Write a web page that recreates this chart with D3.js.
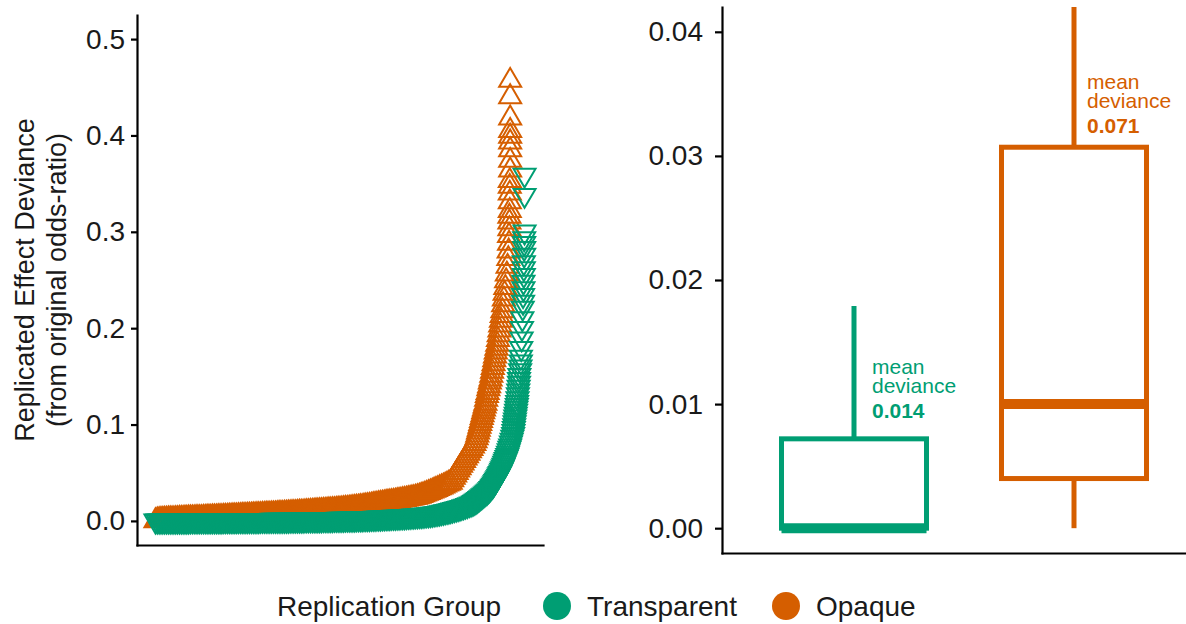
<!DOCTYPE html>
<html>
<head>
<meta charset="utf-8">
<script src="https://cdn.jsdelivr.net/npm/d3@7"></script>
<style>
  body { margin: 0; background: #fff; }
  svg { display: block; font-family: "Liberation Sans", Arial, sans-serif; }
</style>
</head>
<body>
<svg id="chart" width="1186" height="624"></svg>
<script>
const groups = ["Transparent", "Opaque"];
const groupColors = ["#009E73", "#D55E00"];

// left panel: [rank of replication (%), replicated effect deviance]
const opaquePoints = [
  [0,0],[0.5,.0008],[1,.0012],[1.5,.0014],[2,.0015],[2.5,.0016],[3,.0017],[3.5,.0018],[4,.0019],[4.5,.0019],
  [5,.002],[5.5,.0021],[6,.0022],[6.5,.0023],[7,.0024],[7.5,.0025],[8,.0026],[8.5,.0027],[9,.0028],[9.5,.0029],
  [10,.003],[10.5,.003],[11,.0031],[11.5,.0032],[12,.0033],[12.5,.0033],[13,.0034],[13.5,.0035],[14,.0036],[14.5,.0037],
  [15,.0038],[15.5,.0039],[16,.004],[16.5,.004],[17,.0041],[17.5,.0042],[18,.0043],[18.5,.0044],[19,.0045],[19.5,.0046],
  [20,.0047],[20.5,.0048],[21,.0049],[21.5,.005],[22,.0051],[22.5,.0052],[23,.0053],[23.5,.0054],[24,.0055],[24.5,.0056],
  [25,.0057],[25.5,.0058],[26,.0059],[26.5,.006],[27,.0061],[27.5,.0062],[28,.0063],[28.5,.0064],[29,.0065],[29.5,.0066],
  [30,.0067],[30.5,.0068],[31,.0069],[31.5,.007],[32,.0071],[32.5,.0072],[33,.0073],[33.5,.0075],[34,.0076],[34.5,.0077],
  [35,.0078],[35.5,.0079],[36,.008],[36.5,.0082],[37,.0083],[37.5,.0084],[38,.0085],[38.5,.0087],[39,.0088],[39.5,.0089],
  [40,.009],[40.5,.0092],[41,.0093],[41.5,.0095],[42,.0096],[42.5,.0098],[43,.0099],[43.5,.0101],[44,.0102],[44.5,.0104],
  [45,.0105],[45.5,.0107],[46,.0108],[46.5,.011],[47,.0111],[47.5,.0113],[48,.0114],[48.5,.0116],[49,.0117],[49.5,.0119],
  [50,.0121],[50.5,.0123],[51,.0125],[51.5,.0127],[52,.0129],[52.5,.0131],[53,.0133],[53.5,.0135],[54,.0137],[54.5,.014],
  [55,.0142],[55.5,.0145],[56,.0147],[56.5,.015],[57,.0153],[57.5,.0156],[58,.0159],[58.5,.0162],[59,.0166],[59.5,.0169],
  [60,.0173],[60.5,.0176],[61,.018],[61.5,.0183],[62,.0186],[62.5,.0189],[63,.0192],[63.5,.0195],[64,.0198],[64.5,.0201],
  [65,.0204],[65.5,.0207],[66,.0211],[66.5,.0214],[67,.0218],[67.5,.0221],[68,.0225],[68.5,.0228],[69,.0232],[69.5,.0236],
  [70,.024],[70.5,.0244],[71,.0249],[71.5,.0255],[72,.0262],[72.5,.0269],[73,.0276],[73.5,.0284],[74,.0292],[74.5,.03],
  [75,.0308],[75.5,.0316],[76,.0325],[76.5,.0333],[77,.0342],[77.5,.0351],[78,.036],[78.5,.037],[79,.038],[79.5,.039],
  [80,.04],[80.4,.0425],[80.8,.045],[81.2,.0475],[81.6,.05],[82,.0525],[82.4,.055],[82.8,.0575],[83.2,.06],[83.6,.0625],
  [84,.065],[84.4,.0675],[84.8,.07],[85.2,.0725],[85.6,.075],[86,.0775],[86.4,.08],[86.7,.083],[87,.086],[87.2,.089],
  [87.4,.092],[87.6,.095],[87.8,.098],[88,.101],[88.2,.104],[88.4,.107],[88.6,.11],[88.8,.113],[89,.116],[89.2,.119],
  [89.4,.122],[89.6,.126],[89.8,.13],[90,.133],[90.2,.137],[90.4,.14],[90.6,.144],[90.8,.147],[91,.151],[91.2,.155],
  [91.4,.159],[91.6,.163],[91.8,.167],[92,.171],[92.2,.175],[92.4,.179],[92.6,.183],[92.8,.188],[93,.193],[93.2,.198],
  [93.4,.203],[93.6,.208],[93.8,.213],[94,.218],[94.2,.224],[94.4,.23],[94.6,.236],[94.8,.242],[95,.249],[95.2,.256],
  [95.4,.264],[95.6,.272],[95.7,.28],[95.8,.288],[95.8,.296],[95.9,.303],[95.9,.31],[95.9,.316],[96,.322],[96,.331],
  [96,.34],[96,.347],[96,.353],[96.1,.364],[96.1,.374],[96.1,.385],[96.1,.393],[96.1,.399],[96.1,.405],[96.1,.418],
  [96.1,.44],[96.1,.457]
];

const transparentPoints = [
  [0,0],[0.5,0],[1,0],[1.5,0],[2,0],[2.5,0],[3,0],[3.5,.0001],[4,.0001],[4.5,.0001],
  [5,.0001],[5.5,.0001],[6,.0001],[6.5,.0001],[7,.0001],[7.5,.0001],[8,.0001],[8.5,.0001],[9,.0001],[9.5,.0002],
  [10,.0002],[10.5,.0002],[11,.0002],[11.5,.0002],[12,.0002],[12.5,.0002],[13,.0002],[13.5,.0002],[14,.0002],[14.5,.0003],
  [15,.0003],[15.5,.0003],[16,.0003],[16.5,.0003],[17,.0003],[17.5,.0003],[18,.0003],[18.5,.0004],[19,.0004],[19.5,.0004],
  [20,.0004],[20.5,.0004],[21,.0004],[21.5,.0004],[22,.0004],[22.5,.0005],[23,.0005],[23.5,.0005],[24,.0005],[24.5,.0005],
  [25,.0005],[25.5,.0006],[26,.0006],[26.5,.0006],[27,.0006],[27.5,.0006],[28,.0006],[28.5,.0007],[29,.0007],[29.5,.0007],
  [30,.0007],[30.5,.0007],[31,.0007],[31.5,.0008],[32,.0008],[32.5,.0008],[33,.0008],[33.5,.0008],[34,.0008],[34.5,.0009],
  [35,.0009],[35.5,.0009],[36,.0009],[36.5,.001],[37,.001],[37.5,.001],[38,.001],[38.5,.0011],[39,.0011],[39.5,.0011],
  [40,.0011],[40.5,.0012],[41,.0012],[41.5,.0012],[42,.0012],[42.5,.0013],[43,.0013],[43.5,.0013],[44,.0013],[44.5,.0014],
  [45,.0014],[45.5,.0015],[46,.0015],[46.5,.0015],[47,.0015],[47.5,.0016],[48,.0016],[48.5,.0017],[49,.0017],[49.5,.0018],
  [50,.0018],[50.5,.0019],[51,.0019],[51.5,.002],[52,.002],[52.5,.0021],[53,.0021],[53.5,.0022],[54,.0022],[54.5,.0023],
  [55,.0023],[55.5,.0024],[56,.0024],[56.5,.0025],[57,.0025],[57.5,.0026],[58,.0027],[58.5,.0028],[59,.0028],[59.5,.0029],
  [60,.003],[60.5,.0031],[61,.0032],[61.5,.0033],[62,.0034],[62.5,.0035],[63,.0036],[63.5,.0037],[64,.0038],[64.5,.0039],
  [65,.004],[65.5,.0041],[66,.0042],[66.5,.0043],[67,.0044],[67.5,.0045],[68,.0046],[68.5,.0048],[69,.0049],[69.5,.0051],
  [70,.0052],[70.5,.0054],[71,.0055],[71.5,.0057],[72,.0058],[72.5,.006],[73,.0062],[73.5,.0064],[74,.0066],[74.5,.0068],
  [75,.0071],[75.5,.0074],[76,.0077],[76.5,.008],[77,.0084],[77.5,.0088],[78,.0092],[78.5,.0096],[79,.01],[79.5,.0105],
  [80,.011],[80.5,.0115],[81,.012],[81.5,.0125],[82,.013],[82.5,.0136],[83,.0142],[83.5,.0148],[84,.0155],[84.5,.0162],
  [85,.017],[85.5,.0177],[86,.0185],[86.3,.0193],[86.6,.02],[86.9,.0208],[87.2,.0216],[87.5,.0225],[87.8,.0234],[88.1,.0243],
  [88.4,.0252],[88.7,.0262],[89,.0272],[89.3,.0282],[89.6,.0292],[89.9,.0302],[90.2,.0313],[90.5,.0325],[90.8,.0338],[91.1,.0352],
  [91.3,.0362],[91.5,.0373],[91.7,.0385],[91.9,.0397],[92.1,.041],[92.3,.0423],[92.5,.0436],[92.7,.045],[92.9,.0465],[93.1,.048],
  [93.3,.0495],[93.5,.051],[93.7,.0527],[93.9,.0544],[94.1,.0562],[94.3,.058],[94.5,.06],[94.7,.062],[94.9,.064],[95.1,.066],
  [95.3,.068],[95.5,.0705],[95.7,.073],[95.9,.0755],[96.1,.078],[96.3,.081],[96.5,.084],[96.7,.087],[96.9,.09],[97,.093],
  [97.1,.096],[97.2,.099],[97.3,.102],[97.4,.105],[97.5,.108],[97.6,.111],[97.7,.114],[97.8,.117],[97.9,.12],[98,.123],
  [98.1,.127],[98.2,.131],[98.3,.135],[98.4,.139],[98.5,.143],[98.5,.147],[98.6,.151],[98.8,.156],[98.9,.16],[99,.165],
  [99,.17],[99.1,.179],[99.2,.189],[99.3,.2],[99.4,.21],[99.5,.221],[99.6,.227],[99.6,.234],[99.7,.241],[99.7,.248],
  [99.8,.255],[99.8,.262],[99.8,.268],[99.9,.276],[99.9,.283],[99.9,.288],[99.9,.293],[100,.3],[100,.338],[100,.359]
];

// right panel: boxplot summaries, same order as groups
const whiskerLow = [0, 0];
const q1 = [0, 0.0040];
const medians = [0, 0.0100];
const q3 = [0.0072, 0.0307];
const whiskerHigh = [0.0179, 0.0705];
const meanDeviance = [0.014, 0.071];

const leftTicks = [0, 0.1, 0.2, 0.3, 0.4, 0.5];
const rightTicks = [0, 0.01, 0.02, 0.03, 0.04];

const svg = d3.select("#chart");
const ink = "#1a1a1a";

function styleAxis(g, fontSize) {
  g.select(".domain").attr("stroke", "#000").attr("stroke-width", 2.2).attr("stroke-linecap", "square");
  g.selectAll(".tick line").attr("stroke", "#000").attr("stroke-width", 2.2);
  g.selectAll(".tick text").attr("fill", ink).attr("font-size", fontSize);
  g.attr("font-family", null).attr("font-size", null);
}

// ---------- left panel ----------
const xL = d3.scaleLinear().domain([-5, 105]).range([137, 543]);
const yL = d3.scaleLinear().domain([-0.025, 0.525]).range([545, 15]);

// open triangles (pch 2 / pch 6 look)
const triUp = "M0,-12.6L11,6.3L-11,6.3Z";
const triDown = "M0,12.6L11,-6.3L-11,-6.3Z";

const pts = svg.append("g").attr("class", "points");
pts.selectAll(".opaque")
  .data(opaquePoints)
  .join("path")
  .attr("class", "opaque")
  .attr("d", triUp)
  .attr("transform", d => `translate(${xL(d[0])},${yL(d[1])})`)
  .attr("fill", "none")
  .attr("stroke", groupColors[1])
  .attr("stroke-width", 2);

pts.selectAll(".transparent")
  .data(transparentPoints)
  .join("path")
  .attr("class", "transparent")
  .attr("d", triDown)
  .attr("transform", d => `translate(${xL(d[0])},${yL(d[1])})`)
  .attr("fill", "none")
  .attr("stroke", groupColors[0])
  .attr("stroke-width", 2);

svg.append("g")
  .attr("transform", "translate(0,545)")
  .call(d3.axisBottom(xL).tickValues([]).tickSizeOuter(0))
  .call(g => styleAxis(g, 28));

svg.append("g")
  .attr("transform", "translate(137,0)")
  .call(d3.axisLeft(yL).tickValues(leftTicks).tickFormat(d3.format(".1f"))
    .tickSize(6).tickPadding(6).tickSizeOuter(0))
  .call(g => styleAxis(g, 28));

const titleY = (15 + 545) / 2;
[["Replicated Effect Deviance", 34], ["(from original odds-ratio)", 66]].forEach(([t, x]) => {
  svg.append("text")
    .attr("transform", `translate(${x},${titleY}) rotate(-90)`)
    .attr("text-anchor", "middle")
    .attr("fill", ink)
    .attr("font-size", 27)
    .text(t);
});

// ---------- right panel ----------
const xR = d3.scalePoint().domain(groups).range([722, 1206]).padding(0.6);
const yR = d3.scaleLinear().domain([-0.002, 0.042]).range([553, 7]);
const boxHalf = 72.5;

svg.append("clipPath").attr("id", "rclip")
  .append("rect").attr("x", 722).attr("y", 7).attr("width", 484).attr("height", 546);

const boxes = svg.append("g").attr("clip-path", "url(#rclip)")
  .selectAll("g")
  .data(groups)
  .join("g");

boxes.append("line")
  .attr("x1", d => xR(d)).attr("x2", d => xR(d))
  .attr("y1", (d, i) => yR(whiskerLow[i])).attr("y2", (d, i) => yR(q1[i]))
  .attr("stroke", (d, i) => groupColors[i]).attr("stroke-width", 5);

boxes.append("line")
  .attr("x1", d => xR(d)).attr("x2", d => xR(d))
  .attr("y1", (d, i) => yR(q3[i])).attr("y2", (d, i) => yR(whiskerHigh[i]))
  .attr("stroke", (d, i) => groupColors[i]).attr("stroke-width", 5);

boxes.append("rect")
  .attr("x", d => xR(d) - boxHalf).attr("width", boxHalf * 2)
  .attr("y", (d, i) => yR(q3[i]))
  .attr("height", (d, i) => yR(q1[i]) - yR(q3[i]))
  .attr("fill", "#fff")
  .attr("stroke", (d, i) => groupColors[i]).attr("stroke-width", 5);

boxes.append("line")
  .attr("x1", d => xR(d) - boxHalf).attr("x2", d => xR(d) + boxHalf)
  .attr("y1", (d, i) => yR(medians[i])).attr("y2", (d, i) => yR(medians[i]))
  .attr("stroke", (d, i) => groupColors[i]).attr("stroke-width", 10);

// mean deviance labels, one text block per group
const labelAt = [0.0124, 0.0354];
const labelDx = [18, 13];
boxes.each(function(d, i) {
  const x = xR(d) + labelDx[i];
  const t = d3.select(this).append("text")
    .attr("x", x).attr("y", yR(labelAt[i]))
    .attr("fill", groupColors[i]).attr("font-size", 21);
  t.append("tspan").attr("x", x).text("mean");
  t.append("tspan").attr("x", x).attr("dy", 19).text("deviance");
  t.append("tspan").attr("x", x).attr("dy", 25).attr("font-weight", "bold")
    .text(d3.format(".3f")(meanDeviance[i]));
});

svg.append("g")
  .attr("transform", "translate(0,553)")
  .call(d3.axisBottom(xR).tickValues([]).tickSizeOuter(0))
  .call(g => styleAxis(g, 28));

svg.append("g")
  .attr("transform", "translate(722,0)")
  .call(d3.axisLeft(yR).tickValues(rightTicks).tickFormat(d3.format(".2f"))
    .tickSize(7).tickPadding(12).tickSizeOuter(0))
  .call(g => styleAxis(g, 28));

// ---------- legend ----------
const legend = svg.append("g").attr("font-size", 28).attr("fill", ink);
legend.append("text").attr("x", 277).attr("y", 606).attr("dy", "0.35em").text("Replication Group");
const legendX = [557, 786];
groups.forEach((gname, i) => {
  legend.append("circle").attr("cx", legendX[i]).attr("cy", 606).attr("r", 14).attr("fill", groupColors[i]);
  legend.append("text").attr("x", legendX[i] + 30).attr("y", 606).attr("dy", "0.35em").text(gname);
});
</script>
</body>
</html>
